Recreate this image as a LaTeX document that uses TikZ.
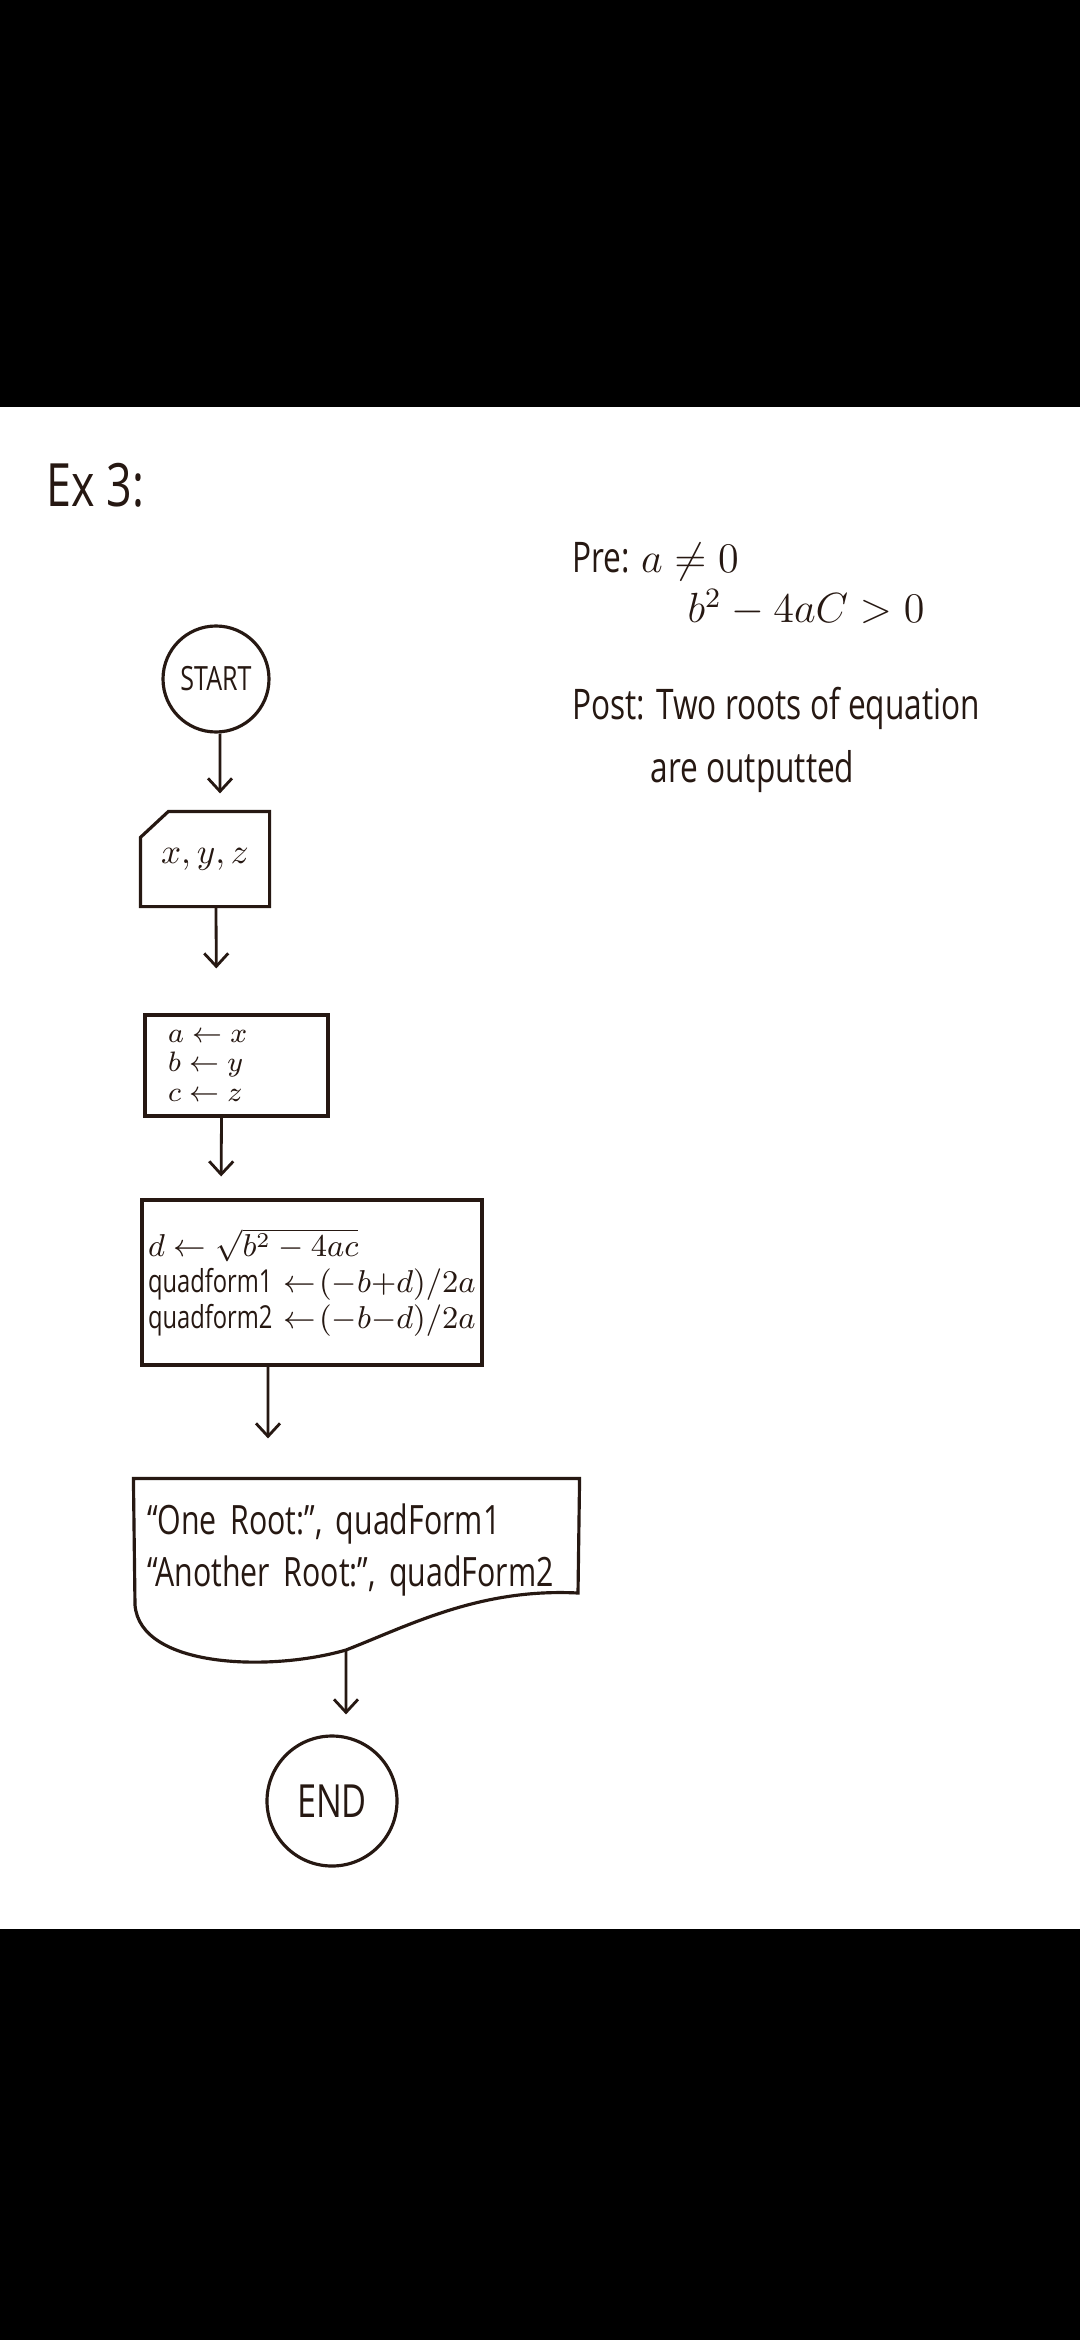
\documentclass[tikz,border=0pt]{standalone}
\usepackage{fontspec}
\setmainfont{Open Sans}[FakeStretch=0.75]
\usetikzlibrary{arrows.meta}
\definecolor{ink}{RGB}{38,24,18}

\begin{document}
\begin{tikzpicture}[
  x=0.1mm, y=-0.1mm,
  color=ink,
  line width=0.9pt,
  term/.style={draw, circle, inner sep=0pt},
  box/.style={draw, rectangle, align=left, inner ysep=0pt},
  note/.style={anchor=west, inner sep=0pt, font=\fontsize{12}{14}\selectfont},
  arr/.style={-{Straight Barb[length=1.3mm, width=2.4mm]}, line width=0.8pt},
]
  % page with the dark bands
  \useasboundingbox (0,0) rectangle (1080,2340);
  \fill[white] (0,0) rectangle (1080,2340);
  \fill[black] (0,0) rectangle (1080,407);
  \fill[black] (0,1929) rectangle (1080,2340);

  \node[note, font=\fontsize{17}{19}\selectfont] (title) at (45,485) {Ex 3:};

  % pre / post conditions
  \node[note] (pre) at (571,562) {Pre: $a \neq 0$};
  \node[note] (pre2) at (686,608) {$b^2 - 4aC > 0$};
  \node[note] (post) at (571,708) {Post: Two roots of equation};
  \node[note] (post2) at (649,772) {are outputted};

  % flowchart
  \node[term, minimum size=10.6mm, font=\fontsize{9.5}{11}\selectfont]
    (start) at (216,679) {START};

  \node[minimum width=12.6mm, minimum height=9.2mm, inner sep=0pt]
    (card) at (205,859) {$x, y, z$};
  \draw (card.south west) -- ([yshift=-2.6mm]card.north west)
    -- ([xshift=2.8mm]card.north west) -- (card.north east)
    -- (card.south east) -- cycle;

  \node[box, minimum width=18.3mm, minimum height=10.1mm, text width=13.7mm,
        inner xsep=2.3mm, font=\fontsize{8.5}{8.4}\selectfont]
    (asg) at (236.5,1065.5) {$a \leftarrow x$\\$b \leftarrow y$\\$c \leftarrow z$};

  \node[box, minimum width=34mm, minimum height=16.5mm, text width=32.8mm,
        inner xsep=0.6mm, font=\fontsize{9}{10.2}\selectfont]
    (proc) at (312,1282.5)
    {$d \leftarrow \sqrt{b^2-4ac}$\\
     quadform1 $\leftarrow\!(-b{+}d)/2a$\\
     quadform2 $\leftarrow\!(-b{-}d)/2a$};

  \node[align=left, minimum height=14mm, text width=41.9mm, inner xsep=1.2mm,
        inner ysep=0pt, font=\fontsize{11.5}{15}\selectfont]
    (doc) at (356.5,1550)
    {``One Root:'', quadForm1\\``Another Root:'', quadForm2};
  \coordinate (docb) at (346,1650);
  \draw (doc.north west) -- (doc.north east) -- (578,1593)
    .. controls (480,1588) and (410,1625) .. (docb)
    .. controls (270,1672) and (140,1668) .. (135,1605) -- cycle;

  \node[term, minimum size=13mm, font=\fontsize{13}{15}\selectfont]
    (stop) at (332,1801) {END};

  % connectors
  \draw[arr, shorten >=1.8mm] ([xshift=0.4mm]start.south) -- ([xshift=1.5mm]card.north);
  \draw[arr, shorten >=4.5mm] ([xshift=1.1mm]card.south) -- ([xshift=-2mm]asg.north);
  \draw[arr, shorten >=2.2mm] ([xshift=-1.5mm]asg.south) -- ([xshift=-9.1mm]proc.north);
  \draw[arr, shorten >=4mm] ([xshift=-4.4mm]proc.south) -- ([xshift=-8.85mm]doc.north);
  \draw[arr, shorten >=2mm] (docb) -- ([xshift=1.4mm]stop.north);
\end{tikzpicture}
\end{document}
